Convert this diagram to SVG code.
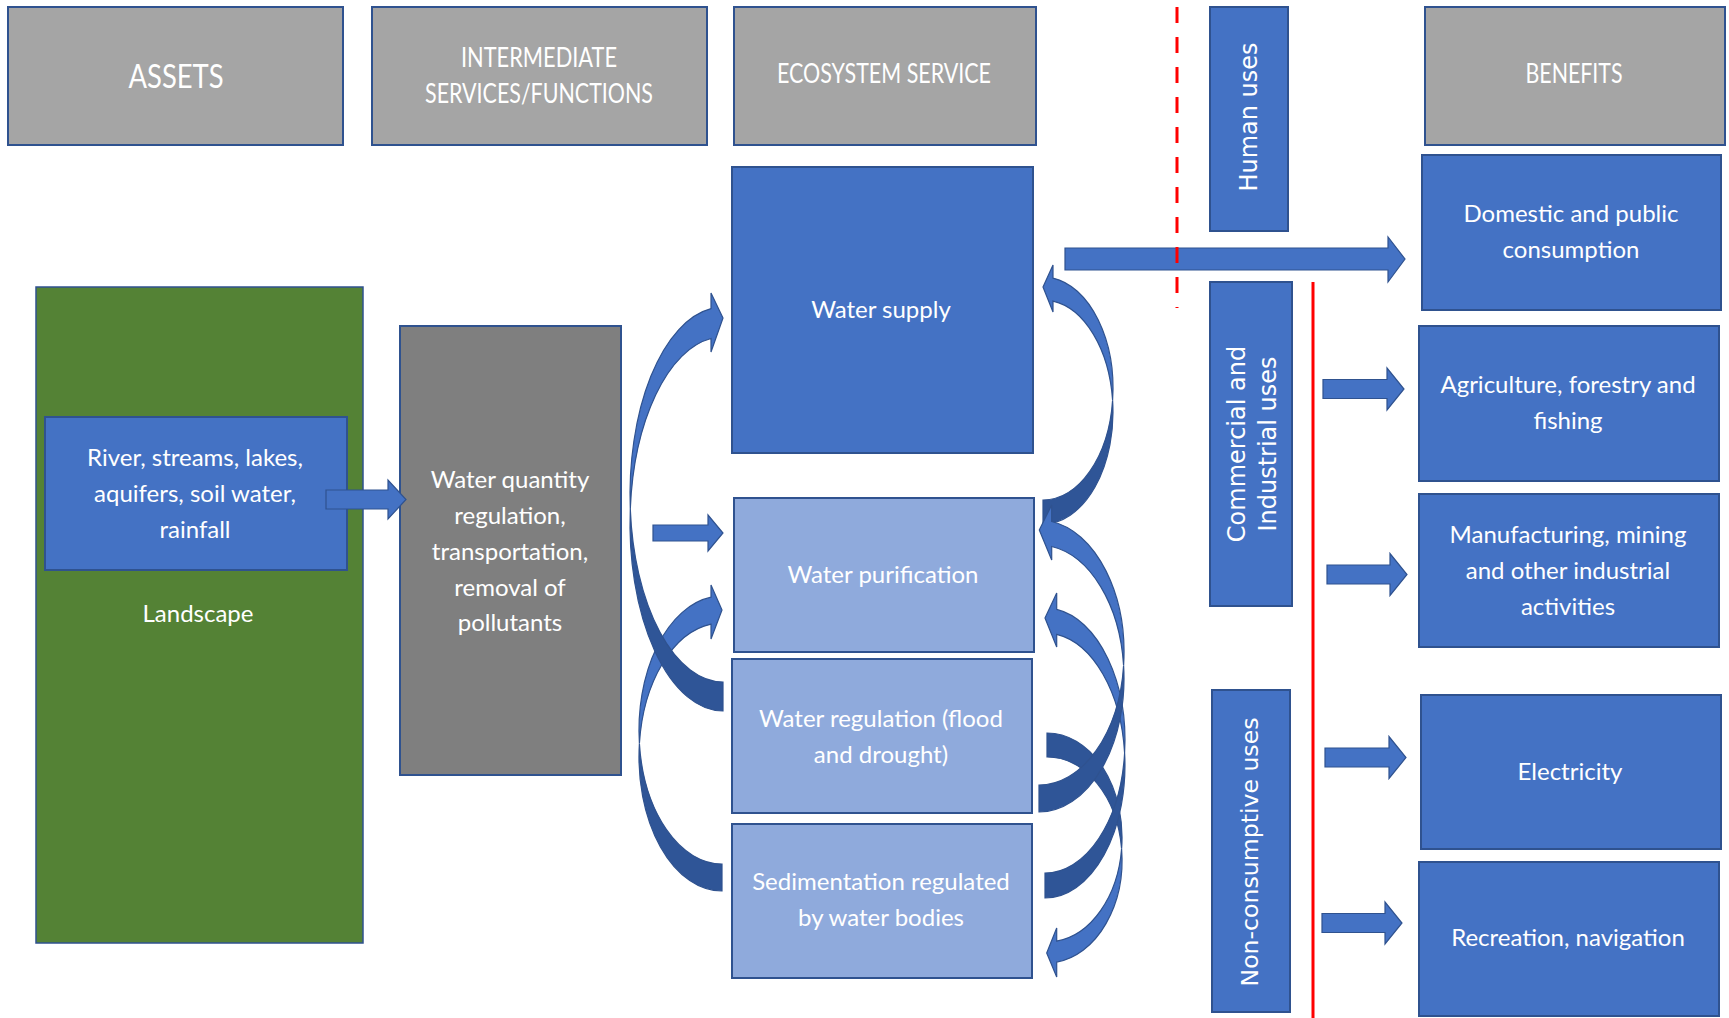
<svg xmlns="http://www.w3.org/2000/svg" width="1729" height="1018" viewBox="0 0 1729 1018">
<style>
.hdr{fill:#A5A5A5;stroke:#2F528F;stroke-width:2}
.blue{fill:#4472C4;stroke:#2F528F;stroke-width:2}
.light{fill:#8FAADC;stroke:#2F528F;stroke-width:2}
.green{fill:#548235;stroke:#2F528F;stroke-width:1.5}
.grey{fill:#7F7F7F;stroke:#2F528F;stroke-width:2}
.t{font-family:Lato,"Open Sans",sans-serif;fill:#FFFFFF;text-anchor:middle;font-size:24px}
.h{font-family:Lato,"Open Sans",sans-serif;fill:#FFFFFF;text-anchor:middle;font-size:26px}
.v{font-family:"DejaVu Sans",Verdana,sans-serif;fill:#FFFFFF;text-anchor:middle;font-size:24px}
.arr{fill:#4472C4;stroke:#2F528F;stroke-width:1.2}
.back{fill:#2F5597;stroke:#2F528F;stroke-width:1.2}
.red{stroke:#FF0000;stroke-width:3;fill:none}
</style>
<rect width="1729" height="1018" fill="#FFFFFF"/>

<g id="header-assets"><rect class="hdr" x="8" y="7" width="335" height="138"/><text class="h" x="176" y="88" style="font-size:33px" textLength="95" lengthAdjust="spacingAndGlyphs">ASSETS</text></g>
<g id="header-intermediate"><rect class="hdr" x="372" y="7" width="335" height="138"/><text class="h" x="539" y="67" textLength="156" lengthAdjust="spacingAndGlyphs">INTERMEDIATE</text><text class="h" x="539" y="103" textLength="228" lengthAdjust="spacingAndGlyphs">SERVICES/FUNCTIONS</text></g>
<g id="header-ecosystem"><rect class="hdr" x="734" y="7" width="302" height="138"/><text class="h" x="884" y="83" textLength="214" lengthAdjust="spacingAndGlyphs">ECOSYSTEM SERVICE</text></g>
<g id="header-benefits"><rect class="hdr" x="1425" y="7" width="300" height="138"/><text class="h" x="1574" y="83" textLength="97" lengthAdjust="spacingAndGlyphs">BENEFITS</text></g>

<g id="human-uses"><rect class="blue" x="1210" y="7" width="78" height="224"/><text class="v" transform="translate(1257,117) rotate(-90)">Human uses</text></g>
<g id="commercial-uses"><rect class="blue" x="1210" y="282" width="82" height="324"/><text class="v" transform="translate(1245,444) rotate(-90)">Commercial and</text><text class="v" transform="translate(1276,444) rotate(-90)">Industrial uses</text></g>
<g id="nonconsumptive-uses"><rect class="blue" x="1212" y="690" width="78" height="322"/><text class="v" style="font-size:23.6px" transform="translate(1258,852) rotate(-90)">Non-consumptive uses</text></g>

<g id="landscape"><rect class="green" x="36" y="287" width="327" height="656"/><text class="t" x="198" y="622">Landscape</text></g>
<g id="river"><rect class="blue" x="45" y="417" width="302" height="153"/><text class="t" x="195" y="466">River, streams, lakes,</text><text class="t" x="195" y="502">aquifers, soil water,</text><text class="t" x="195" y="538">rainfall</text></g>
<g id="intermediate"><rect class="grey" x="400" y="326" width="221" height="449"/><text class="t" x="510" y="488">Water quantity</text><text class="t" x="510" y="524">regulation,</text><text class="t" x="510" y="560">transportation,</text><text class="t" x="510" y="596">removal of</text><text class="t" x="510" y="631">pollutants</text></g>

<g id="water-supply"><rect class="blue" x="732" y="167" width="301" height="286"/><text class="t" x="881" y="318">Water supply</text></g>
<g id="water-purification"><rect class="light" x="734" y="498" width="300" height="154"/><text class="t" x="883" y="583">Water purification</text></g>
<g id="water-regulation"><rect class="light" x="732" y="659" width="300" height="154"/><text class="t" x="881" y="727">Water regulation (flood</text><text class="t" x="881" y="763">and drought)</text></g>
<g id="sedimentation"><rect class="light" x="732" y="824" width="300" height="154"/><text class="t" x="881" y="890">Sedimentation regulated</text><text class="t" x="881" y="926">by water bodies</text></g>

<g id="domestic"><rect class="blue" x="1422" y="155" width="299" height="155"/><text class="t" x="1571" y="222">Domestic and public</text><text class="t" x="1571" y="258">consumption</text></g>
<g id="agriculture"><rect class="blue" x="1419" y="326" width="300" height="155"/><text class="t" x="1568" y="393">Agriculture, forestry and</text><text class="t" x="1568" y="429">fishing</text></g>
<g id="manufacturing"><rect class="blue" x="1419" y="494" width="300" height="153"/><text class="t" x="1568" y="543">Manufacturing, mining</text><text class="t" x="1568" y="579">and other industrial</text><text class="t" x="1568" y="615">activities</text></g>
<g id="electricity"><rect class="blue" x="1421" y="695" width="300" height="154"/><text class="t" x="1570" y="780">Electricity</text></g>
<g id="recreation"><rect class="blue" x="1419" y="862" width="300" height="154"/><text class="t" x="1568" y="946">Recreation, navigation</text></g>

<g id="connectors">
<path class="arr" d="M326,490 H388 V480 L406,499.5 L388,519 V509 H326 Z"/>
<path class="arr" d="M653,525 H708 V515 L723,533 L708,551 V541 H653 Z"/>
<path class="arr" d="M1065,248 H1388 V237 L1405,259 L1388,282 V270 H1065 Z"/>
<path class="arr" d="M1323,379.5 H1387 V368 L1404,389 L1387,410 V398.5 H1323 Z"/>
<path class="arr" d="M1327,565 H1390 V553.5 L1407,574.5 L1390,595.5 V584 H1327 Z"/>
<path class="arr" d="M1325,748 H1389 V736.5 L1406,757.5 L1389,778.5 V767 H1325 Z"/>
<path class="arr" d="M1322,913.5 H1385 V902 L1402,923 L1385,944 V932.5 H1322 Z"/>

<!-- left curved: sedimentation -> purification -->
<path class="arr" d="M711,597.2 A83,134 0 0 0 639.4,743.5 A83,134 0 0 1 711,624.2 L711,639 L722,610 L711,585 Z"/>
<path class="back" d="M639.4,743.5 A83,134 0 0 0 722,891 L722,864 A83,134 0 0 1 639.4,743.5 Z"/>
<!-- left curved: regulation -> supply -->
<path class="arr" d="M711,308.6 A93,187.5 0 0 0 630.3,509 A93,187 0 0 1 711,338.5 L711,352 L723,318 L711,293 Z"/>
<path class="back" d="M630.3,509 A93,187 0 0 0 723,711 L723,682 A93,187.5 0 0 1 630.3,509 Z"/>

<!-- right curved: purification -> supply -->
<path class="arr" d="M1053,278.1 A70,111.5 0 0 1 1112.6,400.3 A70,112 0 0 0 1053,301.1 L1053,312 L1043,287 L1053,265 Z"/>
<path class="back" d="M1112.6,400.3 A70,112 0 0 1 1043,524 L1043,500 A70,111.5 0 0 0 1112.6,400.3 Z"/>
<!-- right curved: regulation -> sedimentation -->
<path class="arr" d="M1056.7,962.1 A75,103 0 0 0 1121.6,848.8 A75,104.5 0 0 1 1056.7,941.1 L1056.7,928 L1046.7,953 L1056.7,977 Z"/>
<path class="back" d="M1121.6,848.8 A75,104.5 0 0 0 1047,733 L1047,757 A75,103 0 0 1 1121.6,848.8 Z"/>
<!-- right curved: sedimentation -> purification -->
<path class="arr" d="M1056.7,609.4 A80,132.5 0 0 1 1124.6,753 A80,132.5 0 0 0 1056.7,634.4 L1056.7,647 L1045,618 L1056.7,593 Z"/>
<path class="back" d="M1124.6,753 A80,132.5 0 0 1 1045,898 L1045,873 A80,132.5 0 0 0 1124.6,753 Z"/>
<!-- right curved: regulation -> purification -->
<path class="arr" d="M1051.7,521.5 A85,132.5 0 0 1 1123.6,665.5 A85,133.5 0 0 0 1051.7,546.5 L1051.7,560 L1039.3,530 L1051.7,505 Z"/>
<path class="back" d="M1123.6,665.5 A85,133.5 0 0 1 1039,812 L1039,785 A85,132.5 0 0 0 1123.6,665.5 Z"/>
</g>

<g id="dividers">
<line class="red" x1="1177" y1="7" x2="1177" y2="308" stroke-dasharray="16 14"/>
<line class="red" x1="1313" y1="282" x2="1313" y2="1018"/>
</g>
</svg>
